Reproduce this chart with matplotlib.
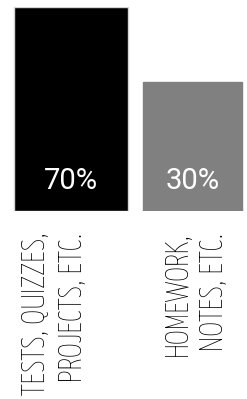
import matplotlib
matplotlib.use("Agg")
import matplotlib.pyplot as plt

# grading split
categories = ["TESTS, QUIZZES,\nPROJECTS, ETC.", "HOMEWORK,\nNOTES, ETC."]
values = [70, 30]
value_labels = ["70%", "30%"]

bar_colors = ["#000000", "#808080"]
edge_colors = ["#d4d4d4", "#808080"]
bar_x = [71, 192.5]
bar_w = [114, 99]
label_x = [54, 195]
BASE = -38.8  # bars start below zero so the short bar isn't too squat

fig = plt.figure(figsize=(2.47, 3.99), dpi=100)
ax = fig.add_axes([0, (399 - 211) / 399, 1, 204 / 399])
ax.set_xlim(0, 247)
ax.set_ylim(BASE, max(values))
ax.axis("off")

heights = [v - BASE for v in values]
ax.bar(bar_x, heights, width=bar_w, bottom=BASE, color=bar_colors,
       edgecolor=edge_colors, linewidth=1)

for x, lab in zip(bar_x, value_labels):
    ax.annotate(lab, (x, BASE), xytext=(0, 21.5), textcoords="offset points",
                ha="center", va="center", color="white", fontsize=21,
                family="Roboto")

for x, cat in zip(label_x, categories):
    ax.annotate(cat, (x, BASE), xytext=(0, -15.5), textcoords="offset points",
                rotation=90, ha="center", va="top", multialignment="right",
                fontsize=23.2, family="Yanone Kaffeesatz", weight="light",
                color="black", linespacing=1.2, annotation_clip=False)

fig.savefig("out.png", dpi=100)
